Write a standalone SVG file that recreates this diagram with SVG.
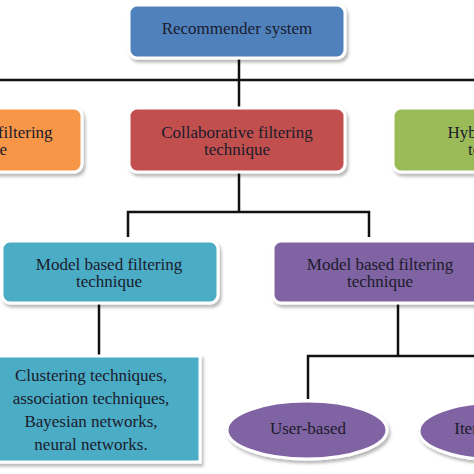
<svg xmlns="http://www.w3.org/2000/svg" width="474" height="474" viewBox="0 0 474 474">
<defs>
<filter id="sh" x="-10%" y="-20%" width="125%" height="150%">
<feDropShadow dx="2" dy="3" stdDeviation="1.5" flood-color="#000" flood-opacity="0.28"/>
</filter>
</defs>
<style>
.box{stroke:#ffffff;stroke-width:3;filter:url(#sh)}
.t{font-family:"Liberation Serif","Times New Roman",serif;font-size:17px;fill:#1b1b2c;text-anchor:middle}
.c{fill:none;stroke:#111;stroke-width:2.5}
</style>
<rect width="474" height="474" fill="#ffffff"/>
<g id="connectors">
<path class="c" d="M239,58 V108 M0,80 H474"/>
<path class="c" d="M239,172 V212 M128,237 V212 H369 V237"/>
<path class="c" d="M99,303 V356"/>
<path class="c" d="M398,303 V356 M474,356 H308 V399"/>
</g>
<g id="recommender">
<rect class="box" x="129" y="5" width="216" height="53" rx="8" fill="#4f81bd"/>
<text class="t" x="237" y="34">Recommender system</text>
</g>
<g id="content">
<rect class="box" x="-134" y="108" width="216" height="64" rx="8" fill="#f79646"/>
<text class="t" x="-26" y="138">Content-based filtering</text>
<text class="t" x="-26" y="155">technique</text>
</g>
<g id="collaborative">
<rect class="box" x="129" y="108" width="216" height="64" rx="8" fill="#c0504d"/>
<text class="t" x="237" y="138">Collaborative filtering</text>
<text class="t" x="237" y="155">technique</text>
</g>
<g id="hybrid">
<rect class="box" x="393" y="108" width="216" height="64" rx="8" fill="#9bbb59"/>
<text class="t" x="501" y="138">Hybrid filtering</text>
<text class="t" x="501" y="155">technique</text>
</g>
<g id="model1">
<rect class="box" x="2" y="241" width="216" height="62" rx="8" fill="#4bacc6"/>
<text class="t" x="109" y="270">Model based filtering</text>
<text class="t" x="109" y="287">technique</text>
</g>
<g id="model2">
<rect class="box" x="273" y="241" width="216" height="62" rx="8" fill="#8064a2"/>
<text class="t" x="380" y="270">Model based filtering</text>
<text class="t" x="380" y="287">technique</text>
</g>
<g id="techniques">
<rect class="box" x="-5" y="356" width="205" height="106" fill="#4bacc6"/>
<text class="t" x="91" y="381">Clustering techniques,</text>
<text class="t" x="91" y="404">association techniques,</text>
<text class="t" x="91" y="427">Bayesian networks,</text>
<text class="t" x="91" y="450">neural networks.</text>
</g>
<g id="userbased">
<ellipse class="box" cx="307" cy="430" rx="80" ry="29" fill="#8064a2"/>
<text class="t" x="308" y="434">User-based</text>
</g>
<g id="itembased">
<ellipse class="box" cx="499" cy="431" rx="80" ry="29" fill="#8064a2"/>
<text class="t" x="492" y="434">Item-based</text>
</g>
</svg>
